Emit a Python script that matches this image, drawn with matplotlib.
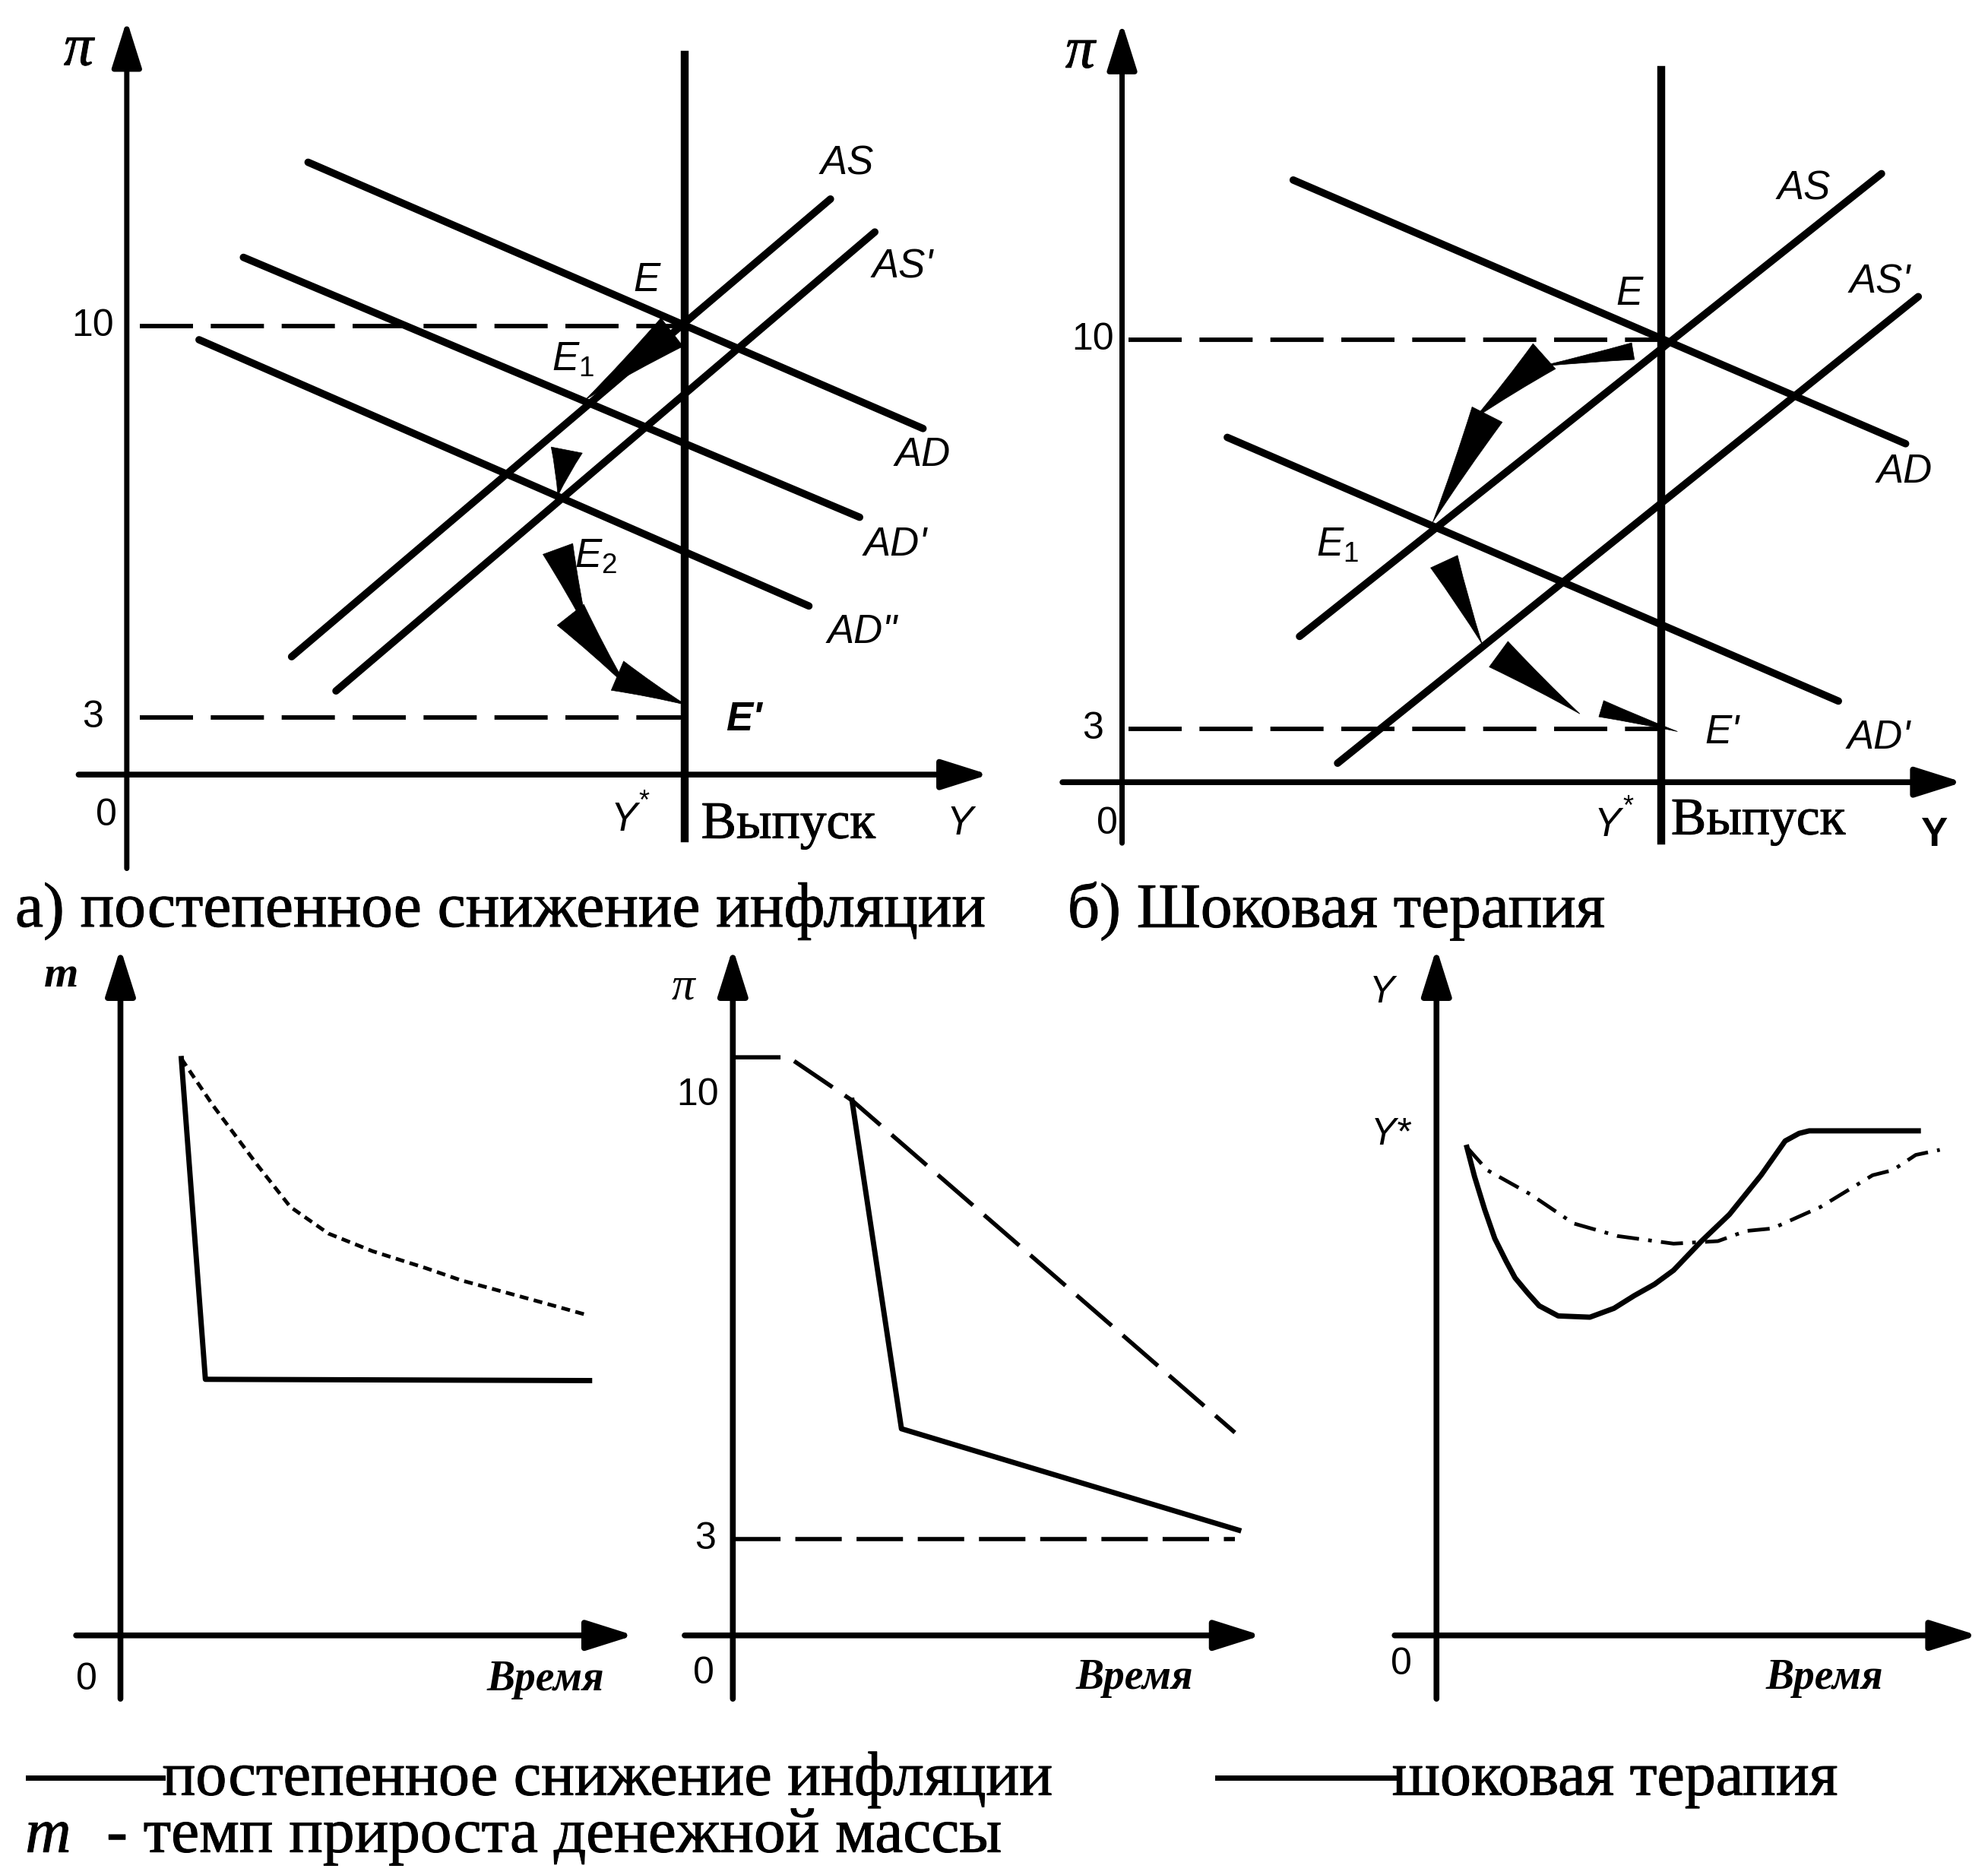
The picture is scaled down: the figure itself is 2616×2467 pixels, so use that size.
import matplotlib
matplotlib.use("Agg")
import matplotlib.pyplot as plt
import matplotlib.patheffects as pe
from matplotlib.patches import FancyArrowPatch

# layout grid of the scanned figure (the reference shrunk to 1568 x 1479)
W, H = 1568, 1479

# ---------- а) постепенное снижение инфляции (units from the axes origin) ----------
a_origin = (100, 611)
a_ystar = 440
a_pi_ticks = [354, 45]          # pi = 10 and pi = 3
a_pi_labels = ['10', '3']
a_AD = [(143, 483), (628, 273)]
a_AD1 = [(92, 408), (578, 203)]
a_AD2 = [(57, 343), (538, 133)]
a_AS = [(130, 93), (555, 454)]
a_AS1 = [(165, 66), (590, 428)]
# adjustment path E -> E1 -> E2 -> E' (tail, head, width)
a_darts = [((430, 349), (362, 296), 34),
           ((347, 256), (340, 220), 30),
           ((340, 178), (364, 112), 30),
           ((350, 126), (394, 70), 32),
           ((387, 78), (441, 55), 30)]

# ---------- б) шоковая терапия ----------
b_origin = (885, 617)
b_ystar = 425
b_pi_ticks = [349, 42]
b_pi_labels = ['10', '3']
b_AD = [(135, 475), (618, 267)]
b_AD1 = [(83, 272), (565, 64)]
b_AS = [(140, 115), (599, 480)]
b_AS1 = [(170, 15), (628, 383)]
b_darts = [((403, 340), (330, 328), 16),
           ((333, 336), (278, 287), 32),
           ((288, 290), (245, 205), 32),
           ((254, 174), (284, 109), 28),
           ((297, 101), (361, 54), 30),
           ((378, 58), (438, 40), 16)]

# ---------- m (темп прироста денежной массы) ----------
m_origin = (95, 1290)
m_shock_x = [48, 67, 370]
m_shock_y = [455, 202, 201]
m_grad_x = [48, 73, 108, 134, 164, 199, 240, 269, 313, 342, 367]
m_grad_y = [455, 418, 371, 338, 317, 303, 290, 280, 268, 260, 253]

# ---------- pi (инфляция) ----------
p_origin = (578, 1290)
p_grad_x = [1, 44, 94, 396]
p_grad_y = [456, 456, 422, 160]
p_shock_x = [94, 133, 399]
p_shock_y = [422, 163, 83]
p_target_x = [1, 396]
p_target_y = [76, 76]
p_ticks = [426, 76]
p_labels = ['10', '3']

# ---------- Y (выпуск) ----------
y_origin = (1133, 1290)
y_shock_x = [24, 30, 38, 46, 55, 62, 72, 81, 96, 121, 140, 156, 172, 187, 209, 231, 256, 275, 286, 294, 380]
y_shock_y = [385, 362, 336, 313, 295, 282, 270, 260, 252, 251, 258, 268, 277, 288, 311, 332, 363, 390, 396, 398, 398]
y_grad_x = [24, 40, 74, 108, 143, 187, 222, 244, 265, 303, 344, 360, 378, 397]
y_grad_y = [385, 367, 348, 325, 315, 309, 311, 319, 321, 338, 363, 367, 379, 383]

plt.rcParams['font.family'] = ['Liberation Sans', 'DejaVu Sans']
plt.rcParams['mathtext.fontset'] = 'custom'
plt.rcParams['mathtext.rm'] = 'Liberation Sans'
plt.rcParams['mathtext.it'] = 'Liberation Sans:italic'
SERIF = ['Liberation Serif', 'DejaVu Serif']
INK = [pe.withStroke(linewidth=0.7, foreground='k')]  # slightly heavier type, like the scan

fig = plt.figure(figsize=(26.16, 24.67), dpi=100)
fig.patch.set_facecolor('white')

base = fig.add_axes([0, 0, 1, 1])
base.set_xlim(0, W)
base.set_ylim(H, 0)
base.axis('off')


def panel(origin):
    ox, oy = origin
    ax = fig.add_axes([0, 0, 1, 1])
    ax.set_xlim(-ox, W - ox)
    ax.set_ylim(oy - H, oy)
    ax.axis('off')
    ax.patch.set_alpha(0)
    return ax


def axis_arrow(ax, start, tip, lw):
    ax.annotate('', xy=tip, xytext=start,
                arrowprops=dict(arrowstyle='-|>,head_length=1.9,head_width=0.6',
                                mutation_scale=20, lw=lw, color='k',
                                shrinkA=0, shrinkB=0))


def dart(ax, tail, head, width, rad=0.0):
    ax.add_patch(FancyArrowPatch(tail, head,
                                 arrowstyle=f'wedge,tail_width={width},shrink_factor=0.45',
                                 connectionstyle=f'arc3,rad={rad}', mutation_scale=1,
                                 facecolor='k', edgecolor='k', lw=0.5,
                                 shrinkA=0, shrinkB=0))


def seg(ax, pts, **kw):
    ax.plot([p[0] for p in pts], [p[1] for p in pts], color='k',
            solid_capstyle='round', **kw)


LBL = dict(fontsize=38, fontstyle='italic', ha='center', va='center')
TICK = dict(fontsize=36, ha='center', va='center')

# ===== panel а =====
ax = panel(a_origin)
axis_arrow(ax, (0, -74), (0, 595), 5.0)
axis_arrow(ax, (-38, 0), (680, 0), 5.5)
ax.plot([a_ystar, a_ystar], [-50, 568], color='k', lw=7.5)
for lvl, lab in zip(a_pi_ticks, a_pi_labels):
    ax.plot([10, a_ystar], [lvl, lvl], color='k', lw=4.2, dashes=(12, 4))
    ax.text(-27, lvl, lab, **TICK)
for line in [a_AD, a_AD1, a_AD2, a_AS, a_AS1]:
    seg(ax, line, lw=7)
for tail, head, w in a_darts:
    dart(ax, tail, head, w)
ax.text(568, 482, 'AS', **LBL)
ax.text(612, 400, "AS'", **LBL)
ax.text(628, 252, 'AD', **LBL)
ax.text(606, 181, "AD'", **LBL)
ax.text(580, 112, 'AD"', **LBL)
ax.text(410, 390, 'E', **LBL)
ax.text(352, 327, r'$E_1$', fontsize=38, ha='center', va='center')
ax.text(370, 172, r'$E_2$', fontsize=38, ha='center', va='center')
ax.text(487, 43, "E'", fontsize=38, fontstyle='italic', fontweight='bold',
        ha='center', va='center')
ax.text(-38, 571, 'π', fontsize=56, fontstyle='italic', family=SERIF,
        ha='center', va='center', path_effects=INK)
ax.text(-16, -32, '0', **TICK)
ax.text(392, -36, 'Y', **LBL)
ax.text(408, -22, '*', fontsize=26, ha='center', va='center')
ax.text(453, -40, 'Выпуск', fontsize=50, family=SERIF, ha='left', va='center',
        path_effects=INK)
ax.text(657, -39, 'Y', **LBL)

# ===== panel б =====
ax = panel(b_origin)
axis_arrow(ax, (0, -48), (0, 599), 5.0)
axis_arrow(ax, (-47, 0), (663, 0), 5.5)
ax.plot([b_ystar, b_ystar], [-46, 562], color='k', lw=7.5)
for lvl, lab in zip(b_pi_ticks, b_pi_labels):
    ax.plot([5, b_ystar], [lvl, lvl], color='k', lw=4.2, dashes=(12, 4))
    ax.text(-23, lvl, lab, **TICK)
for line in [b_AD, b_AD1, b_AS, b_AS1]:
    seg(ax, line, lw=7)
for tail, head, w in b_darts:
    dart(ax, tail, head, w)
ax.text(538, 468, 'AS', **LBL)
ax.text(598, 394, "AS'", **LBL)
ax.text(617, 245, 'AD', **LBL)
ax.text(597, 35, "AD'", **LBL)
ax.text(400, 385, 'E', **LBL)
ax.text(170, 187, r'$E_1$', fontsize=38, ha='center', va='center')
ax.text(473, 39, "E'", **LBL)
ax.text(-33, 575, 'π', fontsize=56, fontstyle='italic', family=SERIF,
        ha='center', va='center', path_effects=INK)
ax.text(-12, -33, '0', **TICK)
ax.text(383, -34, 'Y', **LBL)
ax.text(399, -20, '*', fontsize=26, ha='center', va='center')
ax.text(433, -31, 'Выпуск', fontsize=50, family=SERIF, ha='left', va='center',
        path_effects=INK)
ax.text(640, -42, 'Y', fontsize=38, fontweight='bold', ha='center', va='center')

# ===== bottom panels =====
TIME = dict(fontsize=40, fontstyle='italic', fontweight='bold', family=SERIF,
            ha='center', va='center')

ax = panel(m_origin)
axis_arrow(ax, (0, -50), (0, 542), 5.5)
axis_arrow(ax, (-35, 0), (405, 0), 5.5)
ax.plot(m_shock_x, m_shock_y, color='k', lw=5)
ax.plot(m_grad_x, m_grad_y, color='k', lw=3.5, dashes=(2.4, 1.5))
ax.text(-47, 520, 'm', fontsize=42, fontstyle='italic', fontweight='bold',
        family=SERIF, ha='center', va='center')
ax.text(-27, -35, '0', **TICK)
ax.text(335, -35, 'Время', **TIME)

ax = panel(p_origin)
axis_arrow(ax, (0, -50), (0, 542), 5.5)
axis_arrow(ax, (-38, 0), (417, 0), 5.5)
ax.plot(p_grad_x, p_grad_y, color='k', lw=4, dashes=(11, 3.5))
ax.plot(p_shock_x, p_shock_y, color='k', lw=5)
ax.plot(p_target_x, p_target_y, color='k', lw=4, dashes=(11, 3.5))
for lvl, lab in zip(p_ticks, p_labels):
    ax.text(-28 if lab == '10' else -22, lvl, lab, **TICK)
ax.text(-39, 511, 'π', fontsize=44, fontstyle='italic', family=SERIF,
        ha='center', va='center')
ax.text(-23, -30, '0', **TICK)
ax.text(317, -34, 'Время', **TIME)

ax = panel(y_origin)
axis_arrow(ax, (0, -50), (0, 542), 5.5)
axis_arrow(ax, (-33, 0), (427, 0), 5.5)
ax.plot(y_shock_x, y_shock_y, color='k', lw=5)
ax.plot(y_grad_x, y_grad_y, color='k', lw=3.5, dashes=(6, 2.5, 1, 2.5))
ax.text(-43, 507, 'Y', fontsize=36, fontstyle='italic', ha='center', va='center')
ax.text(-36, 395, 'Y*', fontsize=36, fontstyle='italic', ha='center', va='center')
ax.text(-28, -23, '0', **TICK)
ax.text(306, -34, 'Время', **TIME)

# ===== captions and key =====
CAP = dict(fontsize=60, family=SERIF, ha='left', va='center', path_effects=INK)
base.text(12, 719, 'а) постепенное снижение инфляции', **CAP)
base.text(842, 719, 'б) Шоковая терапия', **CAP)
base.plot([22, 128], [1402, 1402], color='k', lw=5)
base.text(128, 1404, 'постепенное снижение инфляции', fontsize=59, family=SERIF,
          ha='left', va='center', path_effects=INK)
base.plot([960, 1100], [1402, 1402], color='k', lw=5)
base.text(1098, 1404, 'шоковая терапия', fontsize=59, family=SERIF,
          ha='left', va='center', path_effects=INK)
base.text(20, 1449, 'm', fontsize=60, fontstyle='italic', family=SERIF,
          ha='left', va='center', path_effects=INK)
base.text(84, 1449, '- темп прироста денежной массы', fontsize=60, family=SERIF,
          ha='left', va='center', path_effects=INK)

fig.savefig('out.png', dpi=100, facecolor='white')
